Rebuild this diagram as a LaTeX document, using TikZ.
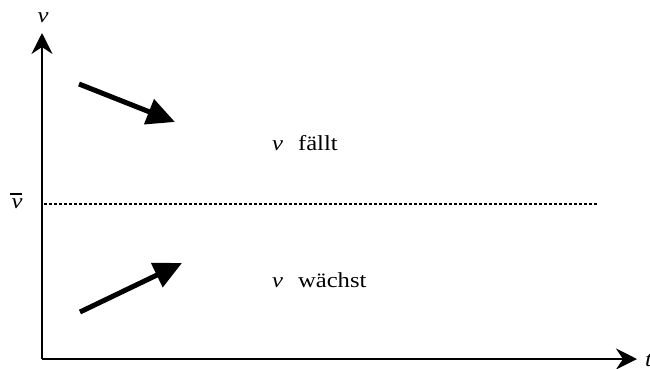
\documentclass[tikz,border=0pt]{standalone}
\usepackage{fontspec}
\usepackage{graphicx}
\setmainfont{Liberation Serif}
\usetikzlibrary{arrows.meta}
\newcommand{\wdx}[1]{\scalebox{1.15}[1]{#1}}
\begin{document}
\begin{tikzpicture}[x=1bp,y=-1bp,
  axis/.style={line width=1.8bp,-{Stealth[length=21bp,width=21bp,inset=7bp]}},
  bigarrow/.style={line width=5bp,-{Triangle[length=28bp,width=26bp]}},
  lbl/.style={inner sep=0pt,font=\fontsize{21.5}{25}\selectfont},
  dline/.style={line width=1.3bp,dash pattern=on 3bp off 2bp}]
\useasboundingbox (0,0) rectangle (650,368);
\coordinate (O) at (42,359);
\coordinate (Ytip) at (42,33);
\coordinate (Xtip) at (637,359);
\draw[axis] (O) -- (Ytip);
\draw[axis] (O) -- (Xtip);
\node[lbl,anchor=base] (ylab) at (43,22) {\wdx{\textit{v}}};
\node[lbl,anchor=base west] (xlab) at (645,366) {\wdx{\textit{t}}};
\node[lbl,anchor=base] (vbar) at (17,208) {\wdx{\textit{v}}};
\draw[line width=1.4bp] ([xshift=-1bp,yshift=4bp]vbar.north west) -- ([xshift=-1bp,yshift=4bp]vbar.north east);
\coordinate (d1) at (44,204);
\coordinate (d2) at (597,204);
\draw[dline] (d1) -- (d2);
\coordinate (a1s) at (79,84);
\coordinate (a1e) at (175,122);
\coordinate (a2s) at (80,312);
\coordinate (a2e) at (182,263);
\draw[bigarrow] (a1s) -- (a1e);
\draw[bigarrow] (a2s) -- (a2e);
\node[lbl,anchor=base west] (fallt) at (272,150) {\wdx{\textit{v}\hspace{13bp}fällt}};
\node[lbl,anchor=base west] (waechst) at (272,287) {\wdx{\textit{v}\hspace{13bp}wächst}};
\end{tikzpicture}
\end{document}
